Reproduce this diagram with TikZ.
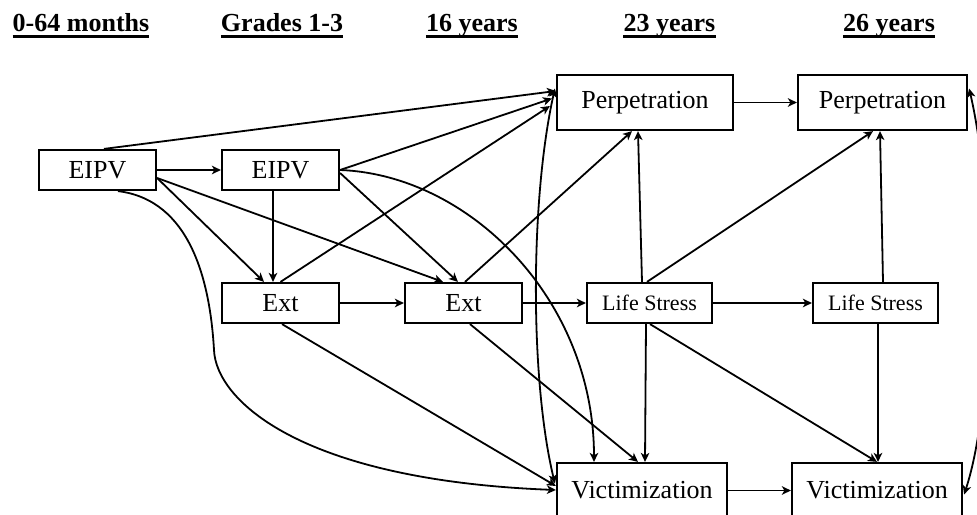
\documentclass[tikz,border=0pt]{standalone}
\usepackage{fontspec}
\setmainfont{Liberation Serif}
\usetikzlibrary{arrows.meta,calc}

\begin{document}
\begin{tikzpicture}[x=1pt,y=-1pt,
  box/.style={draw, line width=2.2pt, inner sep=0pt, font=\fontsize{26}{30}\selectfont},
  smallbox/.style={box, font=\fontsize{22}{26}\selectfont},
  head/.style={inner sep=0pt, anchor=base, font=\bfseries\fontsize{26}{30}\selectfont},
  tip/.tip={Stealth[length=9pt,width=8.5pt,inset=2.5pt]},
  link/.style={line width=1.8pt, -tip},
  twoway/.style={line width=1.8pt, tip-tip},
  rule/.style={line width=2.2pt}]

\useasboundingbox (0,0) rectangle (977,514);

% column headings
\node[head] (h1) at (81,31) {0-64 months};
\node[head] (h2) at (282,31) {Grades 1-3};
\node[head] (h3) at (472,31) {16 years};
\node[head] (h4) at (669.5,31) {23 years};
\node[head] (h5) at (889,31) {26 years};
\foreach \h in {h1,h2,h3,h4,h5}
  \draw[rule] ($(\h.base west)+(0,5.5)$) -- ($(\h.base east)+(0,5.5)$);

% variables
\node[box, minimum width=117pt, minimum height=40pt] (EIPV1) at (97.5,170) {EIPV};
\node[box, minimum width=117pt, minimum height=40pt] (EIPV2) at (280.5,170) {EIPV};
\node[box, minimum width=117pt, minimum height=40pt] (Ext1) at (280.5,303) {Ext};
\node[box, minimum width=117pt, minimum height=40pt] (Ext2) at (463.5,303) {Ext};
\node[smallbox, minimum width=125pt, minimum height=40pt] (LS1) at (649.5,303) {Life Stress};
\node[smallbox, minimum width=125pt, minimum height=40pt] (LS2) at (875.5,303) {Life Stress};
\node[box, minimum width=176pt, minimum height=55pt] (Perp23) at (645,102.5) {Perpetration};
\node[box, minimum width=169pt, minimum height=55pt] (Perp26) at (882.5,102.5) {Perpetration};
\node[box, minimum width=170pt, minimum height=55pt] (Vict23) at (642,490.5) {Victimization};
\node[box, minimum width=170pt, minimum height=55pt] (Vict26) at (877,490.5) {Victimization};

% paths from early exposure
\draw[link] (EIPV1.east) -- (EIPV2.west);
\draw[link] ($(EIPV1.north)+(6.5,0)$) -- ($(Perp23.west)+(0,-11.5)$);
\draw[link] ($(EIPV1.east)+(0,8)$) -- ($(Ext1.north)+(-16.5,0)$);
\draw[link] ($(EIPV1.east)+(0,8)$) -- ($(Ext2.north)+(-20.5,0)$);
\draw[link] ($(EIPV1.south)+(20.5,0)$) .. controls (190,200) and (210,280) .. (214,350)
  .. controls (216,400) and (300,480) .. ($(Vict23.west)+(0,-0.5)$);

% paths from grades 1-3
\draw[link] ($(EIPV2.south)+(-7.5,0)$) -- ($(Ext1.north)+(-7.5,0)$);
\draw[link] (EIPV2.east) -- ($(Perp23.west)+(-4,-4)$);
\draw[link] ($(EIPV2.east)+(0,3)$) -- ($(Ext2.north)+(-5.5,0)$);
\draw[link] (EIPV2.east) .. controls (470,175) and (594,300) .. ($(Vict23.north)+(-48,0)$);
\draw[link] (Ext1.east) -- (Ext2.west);
\draw[link] (Ext1.north) -- ($(Perp23.west)+(-6,3.5)$);
\draw[link] ($(Ext1.south)+(1.5,0)$) -- ($(Vict23.west)+(0,-4.5)$);

% paths from 16 years
\draw[link] (Ext2.east) -- (LS1.west);
\draw[link] ($(Ext2.north)+(1.5,0)$) -- ($(Perp23.south)+(-13,0)$);
\draw[link] ($(Ext2.south)+(6.5,0)$) -- ($(Vict23.north)+(-4,0)$);

% paths from 23 years
\draw[link] ($(LS1.north)+(-7.5,0)$) -- ($(Perp23.south)+(-7,0)$);
\draw[link] ($(LS1.north)+(-2.5,0)$) -- ($(Perp26.south)+(-9.5,0)$);
\draw[link] (LS1.east) -- (LS2.west);
\draw[link] ($(LS1.south)+(-3.5,0)$) -- ($(Vict23.north)+(3,0)$);
\draw[link] ($(LS1.south)+(0.5,0)$) -- ($(Vict26.north)+(0,0)$);
\draw[link] (Perp23.east) -- (Perp26.west);
\draw[link] (Vict23.east) -- (Vict26.west);

% paths within 26 years
\draw[link] ($(LS2.north)+(7.5,0)$) -- ($(Perp26.south)+(-2.5,0)$);
\draw[link] ($(LS2.south)+(2.5,0)$) -- ($(Vict26.north)+(1,0)$);

% residual covariances
\draw[twoway] ($(Perp23.west)+(-1,-14)$) .. controls (530,200) and (530,380) .. ($(Vict23.west)+(-1,-7)$);
\draw[twoway] ($(Perp26.east)+(1,-14)$) .. controls (995,200) and (995,400) .. ($(Vict26.east)+(1,4)$);
\end{tikzpicture}
\end{document}
